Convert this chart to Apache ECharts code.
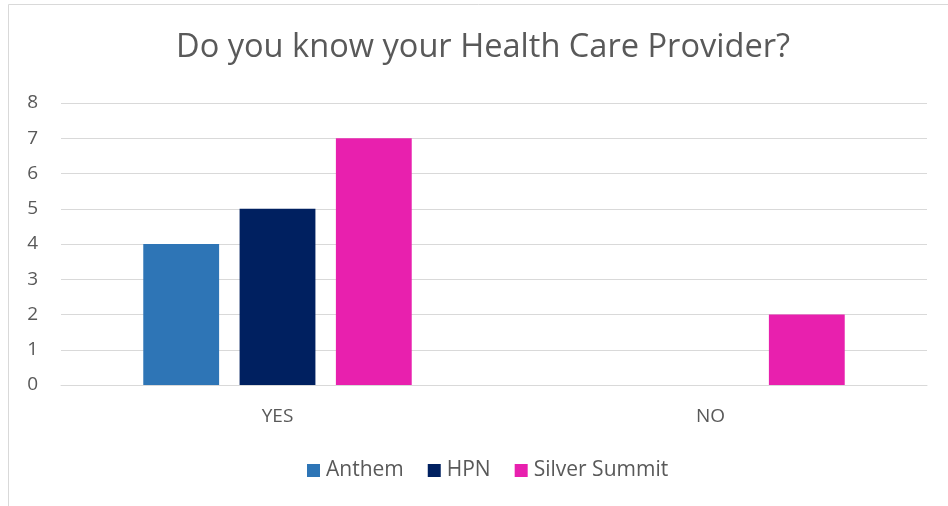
<!DOCTYPE html>
<html>
<head>
<meta charset="utf-8">
<script src="https://cdn.jsdelivr.net/npm/echarts@6/dist/echarts.min.js"></script>
<style>html,body{margin:0;padding:0;background:#fff;}#c{width:948px;height:506px;}</style>
</head>
<body>
<div id="c"></div>
<script>
const categories = ['YES', 'NO'];
const seriesNames = ['Anthem', 'HPN', 'Silver Summit'];
const anthem = [4, 0];
const hpn = [5, 0];
const silverSummit = [7, 2];
const yTicks = [0, 1, 2, 3, 4, 5, 6, 7, 8];

const colors = ['#2E75B6', '#002060', '#E820AE'];
const values = [anthem, hpn, silverSummit];
const font = '"Open Sans", sans-serif';

const chart = echarts.init(document.getElementById('c'), null, {renderer: 'canvas'});
chart.setOption({
  animation: false,
  backgroundColor: '#fff',
  graphic: [{
    type: 'rect', shape: {x: 8.5, y: 4.5, width: 960, height: 520},
    style: {fill: 'none', stroke: '#D9D9D9', lineWidth: 1}, silent: true
  }],
  title: {
    text: 'Do you know your Health Care Provider?',
    left: 171, top: 26,
    textStyle: {fontFamily: font, fontSize: 32.6, fontWeight: 'normal', color: '#595959'}
  },
  legend: {
    data: seriesNames,
    bottom: 20, left: 302,
    itemWidth: 13, itemHeight: 13, itemGap: 24,
    icon: 'rect',
    textStyle: {fontFamily: font, fontSize: 21, color: '#595959', padding: [0, 0, 0, 1]}
  },
  grid: {left: 61, right: 21, top: 103, bottom: 121},
  xAxis: {
    type: 'category', data: categories,
    axisLine: {lineStyle: {color: '#D9D9D9', width: 1}},
    axisTick: {show: false},
    axisLabel: {fontFamily: font, fontSize: 19, color: '#595959', margin: 22}
  },
  yAxis: {
    type: 'value', min: yTicks[0], max: yTicks[yTicks.length - 1], interval: 1,
    axisLine: {show: false}, axisTick: {show: false},
    axisLabel: {fontFamily: font, fontSize: 19, color: '#595959', margin: 23},
    splitLine: {lineStyle: {color: '#D9D9D9', width: 1}}
  },
  series: seriesNames.map((n, i) => ({
    name: n, type: 'bar', data: values[i],
    itemStyle: {color: colors[i]},
    barGap: '27%', barCategoryGap: '38%'
  }))
});
</script>
</body>
</html>
